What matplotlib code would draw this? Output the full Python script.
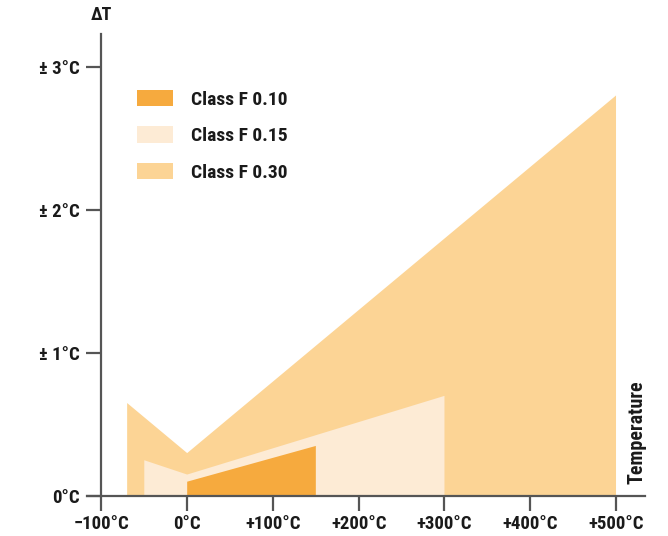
import matplotlib.pyplot as plt
from matplotlib.patches import Patch

# tolerance bands (temperature in degC, deviation in degC)
f030_x = [-70, -70, 0, 500, 500]
f030_y = [0, 0.65, 0.30, 2.80, 0]
f015_x = [-50, -50, 0, 300, 300]
f015_y = [0, 0.25, 0.15, 0.70, 0]
f010_x = [0, 0, 150, 150]
f010_y = [0, 0.10, 0.35, 0]

labels = ['Class F 0.10', 'Class F 0.15', 'Class F 0.30']
colors = ['#F6AA3E', '#FDEBD5', '#FCD495']

x_ticks = [-100, 0, 100, 200, 300, 400, 500]
x_ticklabels = ['\u2212100°C', '0°C', '+100°C', '+200°C', '+300°C', '+400°C', '+500°C']
y_ticks = [0, 1, 2, 3]
y_ticklabels = ['0°C', '± 1°C', '± 2°C', '± 3°C']

plt.rcParams['font.family'] = ['Roboto Condensed', 'DejaVu Sans']
plt.rcParams['font.weight'] = 'bold'

fig = plt.figure(figsize=(6.68, 5.36), dpi=100)
ax = fig.add_axes([87 / 668, 40 / 536, 558 / 668, 462 / 536])

ax.fill(f030_x, f030_y, color=colors[2], lw=0)
ax.fill(f015_x, f015_y, color=colors[1], lw=0)
ax.fill(f010_x, f010_y, color=colors[0], lw=0)

ax.set_xlim(-116.8, 533.8)
ax.set_ylim(0, 3.23)
ax.spines['top'].set_visible(False)
ax.spines['right'].set_visible(False)
ax.spines['left'].set_position(('data', -100))
for s in ['left', 'bottom']:
    ax.spines[s].set_color('#555555')
    ax.spines[s].set_linewidth(1.6)

ax.set_xticks(x_ticks)
ax.set_xticklabels(x_ticklabels)
ax.set_yticks(y_ticks)
ax.set_yticklabels(y_ticklabels)
ax.tick_params(axis='both', length=10.5, width=1.6, color='#555555',
               labelsize=13.5, labelcolor='#1a1a1a')
ax.tick_params(axis='x', pad=3)
ax.tick_params(axis='y', pad=5)

fig.text(101 / 668, 1 - 15 / 536, '\u0394T', ha='center', va='center',
         fontsize=13, fontweight='bold', color='#1a1a1a')
fig.text(637 / 668, 1 - 432 / 536, 'Temperature', ha='center', va='center',
         rotation=90, fontsize=14.5, fontweight='bold', color='#1a1a1a')

handles = [Patch(facecolor=c, edgecolor='none') for c in colors]
ax.legend(handles, labels, loc='upper left', bbox_to_anchor=(137 / 668, 1 - 90 / 536),
          bbox_transform=fig.transFigure, frameon=False, borderpad=0, borderaxespad=0,
          fontsize=14, handlelength=36 / 19.4, handleheight=18 / 19.4,
          handletextpad=18 / 19.4, labelspacing=17.5 / 19.4, labelcolor='#1a1a1a')

plt.savefig('out.png', dpi=100)
